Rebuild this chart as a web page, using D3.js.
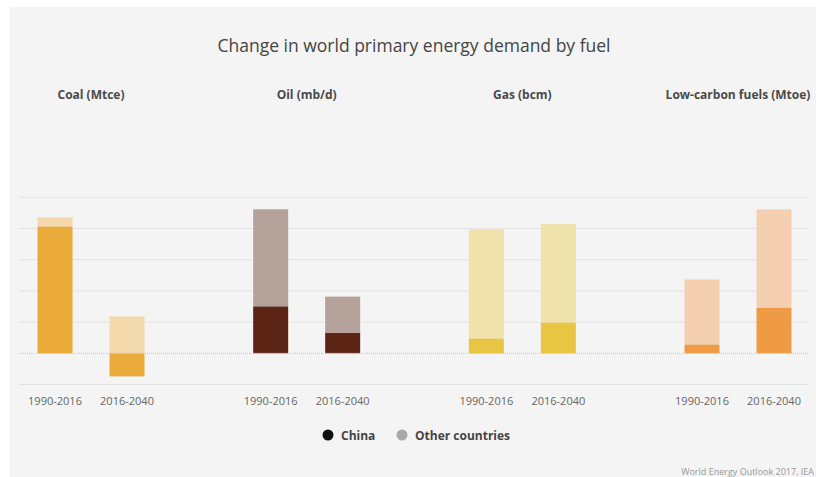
<!DOCTYPE html>
<html>
<head>
<meta charset="utf-8">
<script src="https://cdn.jsdelivr.net/npm/d3@7"></script>
<style>
  html, body { margin: 0; padding: 0; background: #ffffff; }
  svg { display: block; font-family: "Open Sans", "Noto Sans", sans-serif; }
</style>
</head>
<body>
<svg id="chart" width="816" height="477"></svg>
<script>
// Fuels, their units and the two periods compared
const fuels = ["Coal (Mtce)", "Oil (mb/d)", "Gas (bcm)", "Low-carbon fuels (Mtoe)"];
const periods = ["1990-2016", "2016-2040"];

// Change in demand, per fuel, for each period
const chinaValues = [
  [2030, -370],   // coal
  [9.0, 3.9],     // oil
  [188, 393],     // gas
  [111, 584]      // low-carbon
];
const otherValues = [
  [150, 590],
  [18.7, 7.0],
  [1400, 1266],
  [835, 1262]
];

// Value axis domain of each panel (gridlines fall on the same steps in every panel)
const domainLow = [-500, -6, -400, -400];
const domainHigh = [2500, 30, 2000, 2000];
const gridTicks = [-1, 0, 1, 2, 3, 4, 5];

const chinaColors = ["#e9aa3a", "#5b2414", "#e8c542", "#ef9b46"];
const otherColors = ["#f3d9ab", "#b5a29a", "#f0e2ab", "#f4d0b0"];

const legendItems = ["China", "Other countries"];
const legendColors = ["#111111", "#aaaaaa"];

const svg = d3.select("#chart");

// Light panel behind the chart
svg.append("rect")
  .attr("x", 10).attr("y", 7)
  .attr("width", 806).attr("height", 470)
  .attr("fill", "#f4f4f4");

svg.append("text")
  .attr("x", 414).attr("y", 52)
  .attr("text-anchor", "middle")
  .attr("font-size", 17.5)
  .attr("fill", "#444")
  .text("Change in world primary energy demand by fuel");

const panelX = d3.scalePoint().domain(fuels).range([91, 738]);
const periodX = d3.scaleBand().domain(periods).range([-72, 72])
  .paddingInner(0.514).paddingOuter(0.257);

// Shared grid in step units
const gridY = d3.scaleLinear().domain([-1, 5]).range([384.5, 197.3]);

svg.append("g")
  .selectAll("line")
  .data(gridTicks.filter(t => t !== 0))
  .join("line")
  .attr("x1", 19).attr("x2", 809)
  .attr("y1", d => gridY(d)).attr("y2", d => gridY(d))
  .attr("stroke", "#e3e3e3")
  .attr("stroke-width", 1);

fuels.forEach((fuel, i) => {
  const y = d3.scaleLinear().domain([domainLow[i], domainHigh[i]]).range([384.5, 197.3]);
  const cx = panelX(fuel);
  const g = svg.append("g").attr("transform", `translate(${cx},0)`);

  g.append("text")
    .attr("x", 0).attr("y", 99)
    .attr("text-anchor", "middle")
    .attr("font-size", 12)
    .attr("font-weight", 700)
    .attr("fill", "#4a4a4a")
    .text(fuel);

  const rows = periods.map((p, j) => {
    const c = chinaValues[i][j];
    const o = otherValues[i][j];
    // stack positive parts upward, negative parts downward from zero
    const cs = c >= 0 ? [0, c] : [c, 0];
    const os = o >= 0 ? (c >= 0 ? [c, c + o] : [0, o]) : (c < 0 ? [c + o, c] : [o, 0]);
    return { period: p, china: cs, other: os };
  });

  g.selectAll("rect.other")
    .data(rows)
    .join("rect")
    .attr("class", "other")
    .attr("x", d => periodX(d.period))
    .attr("width", periodX.bandwidth())
    .attr("y", d => y(d.other[1]))
    .attr("height", d => y(d.other[0]) - y(d.other[1]))
    .attr("fill", otherColors[i]);

  g.selectAll("rect.china")
    .data(rows)
    .join("rect")
    .attr("class", "china")
    .attr("x", d => periodX(d.period))
    .attr("width", periodX.bandwidth())
    .attr("y", d => y(d.china[1]))
    .attr("height", d => y(d.china[0]) - y(d.china[1]))
    .attr("fill", chinaColors[i]);

  const axis = d3.axisBottom(periodX).tickSize(0).tickPadding(0);
  const ax = g.append("g").attr("transform", "translate(0,397)").call(axis);
  ax.select(".domain").remove();
  ax.selectAll("text")
    .attr("font-family", "\"Open Sans\", sans-serif")
    .attr("font-size", 11)
    .attr("fill", "#666");
});

// Zero line
svg.append("line")
  .attr("x1", 19).attr("x2", 809)
  .attr("y1", gridY(0)).attr("y2", gridY(0))
  .attr("stroke", "#c4c4c4")
  .attr("stroke-width", 1)
  .attr("stroke-dasharray", "1,1");

// Legend
const legendX = [328, 402];
const lg = svg.append("g").selectAll("g")
  .data(legendItems)
  .join("g")
  .attr("transform", (d, k) => `translate(${legendX[k]},435)`);
lg.append("circle").attr("r", 5.5).attr("fill", (d, k) => legendColors[k]);
lg.append("text")
  .attr("x", 13).attr("y", 4.5)
  .attr("font-size", 12)
  .attr("font-weight", 700)
  .attr("fill", "#444")
  .text(d => d);

svg.append("text")
  .attr("x", 814).attr("y", 475)
  .attr("text-anchor", "end")
  .attr("font-size", 9)
  .attr("fill", "#999")
  .text("World Energy Outlook 2017, IEA");
</script>
</body>
</html>
